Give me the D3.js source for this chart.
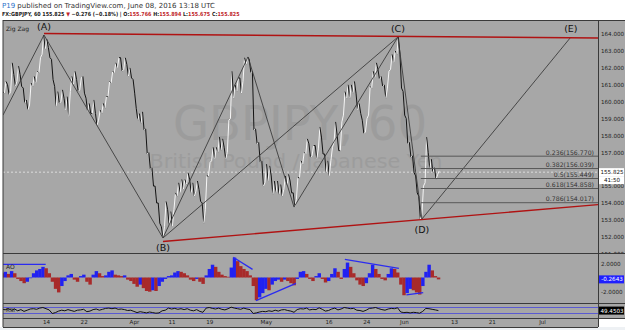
<!DOCTYPE html>
<html>
<head>
<meta charset="utf-8">
<script src="https://cdn.jsdelivr.net/npm/d3@7"></script>
<style>
  body { margin: 0; background: #fff; }
  svg { display: block; }
  text { font-family: "DejaVu Sans", sans-serif; }
</style>
</head>
<body>
<svg id="chart" width="625" height="330"></svg>
<script>

// ---- data ----
// days are trading days counted from Mon 14 Mar 2016 (weekends skipped)

var barStart = -7      // first half-day bar (Thu 3 Mar)
var barStep = 0.5

var priceHigh = [
  160.6, 161.2, 161.0, 162.3, 161.6, 162.1, 161.6, 160.8, 160.1, 161.1,
  161.5, 161.8, 162.6, 163.94, 163.7, 163.2, 162.5, 160.9, 160.6, 160.7,
  160.2, 160.3, 161.5, 161.8, 161.3, 161.4, 161.5, 160.2, 159.9, 160.1,
  159.3, 159.5, 159.9, 160.3, 161.2, 161.8, 162.3, 162.6, 162.6, 162.6,
  162.2, 162.0, 161.3, 159.6, 159.3, 159.4, 158.4, 157.0, 156.1, 155.0,
  154.0, 152.6, 154.1, 153.6, 153.5, 154.6, 155.2, 155.4, 155.4, 155.8,
  155.4, 155.2, 155.3, 154.8, 154.0, 155.6, 156.4, 157.3, 157.3, 157.9,
  157.8, 157.3, 158.9, 161.8, 161.0, 161.4, 161.4, 162.6, 162.64, 162.5,
  161.8, 158.4, 157.6, 156.5, 156.3, 156.2, 155.6, 155.3, 155.3, 155.1,
  155.6, 155.7, 155.3, 154.6, 155.5, 156.5, 157.0, 157.8, 157.5, 157.4,
  157.4, 158.5, 157.9, 156.9, 156.5, 157.3, 158.8, 158.0, 158.8, 160.6,
  161.0, 161.0, 161.2, 160.5, 159.9, 158.9, 159.0, 160.9, 161.8, 162.3,
  161.9, 161.5, 161.0, 161.8, 162.8, 163.0, 163.82, 162.8, 160.6, 159.0,
  157.6, 156.8, 155.6, 154.4, 155.0, 157.9, 157.0, 156.6, 156.1, 155.9
]
var priceLow = [
  160.1, 160.5, 160.4, 160.6, 160.9, 161.2, 160.9, 159.9, 159.5, 159.8,
  160.9, 161.1, 161.7, 162.8, 163.1, 162.6, 161.3, 159.7, 159.9, 160.0,
  159.5, 159.1, 160.6, 161.0, 160.6, 160.7, 160.5, 159.4, 159.3, 159.3,
  158.6, 158.9, 159.3, 159.6, 160.3, 161.1, 161.7, 162.0, 161.8, 161.9,
  161.5, 161.4, 160.5, 158.9, 158.7, 158.3, 156.9, 156.0, 155.0, 154.0,
  152.8, 151.93, 152.6, 152.7, 152.6, 153.6, 154.4, 154.6, 154.8, 155.1,
  154.6, 154.4, 154.7, 154.1, 152.8, 153.6, 155.6, 156.5, 156.6, 157.0,
  157.1, 156.6, 157.0, 159.0, 160.2, 160.6, 160.5, 161.2, 162.2, 161.7,
  158.3, 157.5, 156.4, 155.0, 155.2, 155.3, 154.5, 154.6, 154.5, 154.4,
  154.8, 155.0, 154.6, 153.76, 154.2, 155.5, 156.3, 156.9, 156.7, 156.8,
  156.6, 157.2, 156.9, 155.8, 155.6, 156.5, 157.6, 157.1, 157.1, 159.2,
  160.2, 160.2, 160.5, 159.5, 159.3, 158.1, 158.2, 159.2, 160.8, 161.4,
  161.3, 160.9, 160.2, 160.8, 161.9, 162.3, 162.8, 160.8, 159.2, 157.5,
  156.7, 155.8, 154.6, 153.05, 153.3, 155.2, 156.0, 155.8, 155.4, 155.68
]

var aoValues = [
  0.6, 0.8, 0.5, 0.9, 0.6, -0.2, -0.5, -0.8, -0.6, -0.1,
  0.6, 1.0, 1.2, 1.5, 1.3, 0.6, -0.6, -1.6, -2.1, -1.2,
  -0.5, 0.3, 0.5, -0.3, -0.6, 0.2, 0.4, -0.6, -1.0, 0.4,
  0.9, 0.6, 0.2, 0.3, 0.8, 1.0, 0.4, 0.3, 0.2, 0.3,
  -0.3, -0.5, -0.9, -1.3, -1.0, -1.5, -1.9, -2.0, -1.8, -1.9,
  -1.2, -0.6, -0.2, 0.2, 0.3, 0.7, 0.9, 0.8, 0.6, 0.3,
  -0.3, -0.5, -0.2, -0.6, -0.9, 0.3, 1.2, 1.8, 1.5, 0.8,
  0.4, 0.2, 0.1, 1.4, 2.8, 2.3, 1.6, 1.2, 0.9, 0.3,
  -1.2, -3.2, -2.8, -2.2, -1.6, -1.8, -1.0, -0.5, -0.3, -0.6,
  -0.3, -0.5, -0.8, -1.1, -0.2, 0.8, 0.9, 0.5, -0.2, -0.5,
  0.2, 0.6, -0.2, -0.7, -0.5, 0.5, 1.3, 0.8, -0.2, 1.2,
  2.1, 1.5, 0.6, -0.4, -1.0, -1.2, -0.8, 0.6, 1.8, 1.2,
  0.5, -0.2, -0.4, 0.5, 1.3, 1.2, 0.7, -1.0, -2.5, -2.2,
  -1.6, -1.8, -2.1, -2.4, -1.2, 0.8, 1.8, 1.0, 0.2, -0.2643
]

var rsiValues = [
  58, 55, 62, 52, 60, 48, 56, 44, 52, 60,
  62, 58, 66, 70, 62, 54, 30, 36, 46, 52,
  48, 56, 50, 44, 52, 54, 58, 42, 46, 56,
  60, 52, 58, 64, 66, 62, 66, 58, 60, 56,
  50, 52, 44, 36, 42, 38, 34, 40, 36, 32,
  34, 48, 52, 66, 60, 64, 58, 62, 56, 62,
  52, 48, 56, 44, 38, 66, 70, 64, 60, 66,
  58, 54, 62, 72, 66, 62, 58, 66, 60, 56,
  30, 34, 40, 44, 42, 48, 44, 52, 46, 54,
  56, 50, 46, 38, 56, 62, 60, 66, 54, 58,
  56, 68, 58, 46, 50, 60, 66, 54, 60, 70,
  66, 62, 64, 52, 50, 44, 52, 64, 66, 70,
  62, 56, 52, 60, 64, 62, 68, 40, 36, 38,
  34, 38, 36, 32, 44, 64, 62, 58, 54, 49.4503
]

var lastPrice = 155.825
var lastAO = -0.2643
var lastRSI = 49.4503
var countdown = '41:50'

// zig zag pivots
var pivotLabels = ['', '(A)', '(B)', '', '', '(C)', '(D)', '(E)']
var pivotDays = [-6.85, -0.32, 18.63, 32.17, 39.5, 56.05, 59.87, 83.6]
var pivotPrices = [159.2, 163.94, 151.93, 162.64, 153.76, 163.82, 153.05, 163.82]
var pivotIsTop = [false, true, false, true, false, true, false, true]
var zigzagLinks = [[0, 1], [1, 2], [2, 3], [3, 4], [4, 5], [5, 6], [2, 5], [6, 7]]

// red trend lines, each extended to the right edge
var upperTrendDays = [-0.32, 56.05]
var upperTrendPrices = [164.03, 163.86]
var lowerTrendDays = [18.63, 59.87]
var lowerTrendPrices = [151.72, 153.02]

// fib retracement
var fibStartDay = 59.7
var fibLevels = ['0.236', '0.382', '0.5', '0.618', '0.786']
var fibPrices = [156.770, 156.039, 155.449, 154.858, 154.017]

// blue lines drawn on the AO pane: [day1, ao1, day2, ao2]
var aoLines = [
  [-6.85, 1.86, -0.05, 1.86],
  [29.82, 2.85, 32.9, 1.15],
  [33.44, -3.27, 39.81, -0.82],
  [47.6, 2.56, 56.2, 1.3],
  [57.4, -2.46, 60.08, -2.14]
]

// 156.000 sits under the last-price box, so it is not listed
var priceTicks = [151, 152, 153, 154, 155, 157, 158, 159, 160, 161, 162, 163, 164]
var aoTicks = [2, -2]
var rsiBands = [70, 30]
var timeTickLabels = ['14', '22', 'Apr', '11', '19', 'May', '16', '24', 'Jun', '13', '21', 'Jul']
var timeTickDates = ['2016-03-14', '2016-03-22', '2016-04-01', '2016-04-11', '2016-04-19', '2016-05-02',
                     '2016-05-16', '2016-05-24', '2016-06-01', '2016-06-13', '2016-06-21', '2016-07-01']

// ---- layout ----
var left = 3, axisX = 598, right = 625
var mainTop = 20, mainBottom = 253, aoBottom = 303, rsiBottom = 318, timeBottom = 327
var bg = '#a7a7a7'
var blue = '#2121f2', red = '#a82a2a'
var axisFont = 5.6

// trading day index of a date
var tradingDays = d3.timeDay.range(new Date(2016, 1, 1), new Date(2016, 7, 1))
  .filter(function(d) { return d.getDay() != 0 && d.getDay() != 6 })
var parseDay = d3.timeParse('%Y-%m-%d')
function tradingDay(s) {
  var d = parseDay(s)
  var origin = parseDay('2016-03-14')
  return tradingDays.findIndex(function(e) { return +e == +d })
       - tradingDays.findIndex(function(e) { return +e == +origin })
}

var x = d3.scaleLinear().domain([0, 79]).range([46, 542])
var y = d3.scaleLinear().domain([164, 151]).range([34, 253.7])
var yAO = d3.scaleLinear().domain([2, -2]).range([263.3, 291.7])
var yRSI = d3.scaleLinear().domain([100, 0]).range([303, 318])
var rightDay = x.invert(axisX)

var svg = d3.select('#chart')

// backgrounds
svg.append('rect').attr('x', 0).attr('y', timeBottom).attr('width', 625).attr('height', 330 - timeBottom)
  .attr('fill', '#eef1f4')
svg.append('rect').attr('x', left).attr('y', mainTop).attr('width', right - left).attr('height', rsiBottom - mainTop)
  .attr('fill', bg)
svg.append('rect').attr('x', left).attr('y', rsiBottom).attr('width', axisX - left).attr('height', timeBottom - rsiBottom)
  .attr('fill', bg)

var defs = svg.append('defs')
function clip(id, y0, y1) {
  defs.append('clipPath').attr('id', id).append('rect')
    .attr('x', left).attr('y', y0).attr('width', axisX - left).attr('height', y1 - y0)
  return svg.append('g').attr('clip-path', 'url(#' + id + ')')
}

// ---- header ----
var head1 = svg.append('text').attr('x', 2).attr('y', 7.5).attr('font-size', 7)
head1.append('tspan').attr('fill', '#2a6fc9').text('P19')
head1.append('tspan').attr('fill', '#333').text(' published on TradingView.com, June 08, 2016 13:18 UTC')

var head2Parts = [
  ['FX:GBPJPY, 60 155.825 ', '#222'], ['\u25BC', '#c0262b'], [' \u22120.276 (\u22120.18%) | ', '#222'],
  ['O:', '#222'], ['155.766', '#c0262b'], [' H:', '#222'], ['155.894', '#c0262b'],
  [' L:', '#222'], ['155.675', '#c0262b'], [' C:', '#222'], ['155.825', '#c0262b']
]
// the bold line is a condensed face in the reference, so squeeze it a little
var head2 = svg.append('text').attr('transform', 'translate(2,16) scale(0.87,1)').attr('font-size', 5.6)
  .attr('font-family', 'Liberation Sans').attr('font-weight', 'bold')
head2.selectAll('tspan').data(head2Parts).enter().append('tspan')
  .attr('fill', function(d) { return d[1] }).text(function(d) { return d[0] })

// ---- main pane ----
var gMain = clip('clipMain', mainTop, mainBottom)

gMain.append('text').attr('x', 300).attr('y', 139.5).attr('text-anchor', 'middle')
  .attr('font-family', 'Liberation Sans').attr('font-size', 48).attr('fill', '#9c9c9c')
  .attr('textLength', 254).attr('lengthAdjust', 'spacingAndGlyphs').text('GBPJPY, 60')
gMain.append('text').attr('x', 296).attr('y', 167.5).attr('text-anchor', 'middle')
  .attr('font-family', 'Liberation Sans').attr('font-size', 20).attr('fill', '#9c9c9c')
  .attr('textLength', 293).attr('lengthAdjust', 'spacingAndGlyphs').text('British Pound / Japanese Yen')

// last price dotted line
gMain.append('line').attr('x1', left).attr('x2', axisX)
  .attr('y1', y(lastPrice)).attr('y2', y(lastPrice))
  .attr('stroke', '#dcdcdc').attr('stroke-dasharray', '2,2')

// price bars (half-day), drawn as a jagged line
var bars = priceHigh.map(function(h, i) {
  return { day: barStart + i * barStep, hi: h, lo: priceLow[i] }
})
bars.forEach(function(b, i) {
  var prev = i ? bars[i - 1] : b
  b.up = (b.hi + b.lo) >= (prev.hi + prev.lo)
  b.a = b.up ? b.lo : b.hi
  b.b = b.up ? b.hi : b.lo
})
var q = (x(barStep) - x(0)) / 4
var segs = []
bars.forEach(function(b, i) {
  if (i) segs.push([x(bars[i - 1].day) + q, bars[i - 1].b, x(b.day) - q, b.a])
  segs.push([x(b.day) - q, b.a, x(b.day) + q, b.b])
})
gMain.selectAll('line.px').data(segs).enter().append('line').attr('class', 'px')
  .attr('x1', function(d) { return d[0] }).attr('y1', function(d) { return y(d[1]) })
  .attr('x2', function(d) { return d[2] }).attr('y2', function(d) { return y(d[3]) })
  .attr('stroke', function(d) { return d[3] > d[1] ? '#f6f6f6' : '#141414' })
  .attr('stroke-width', 1)

// zig zag
gMain.selectAll('line.zz').data(zigzagLinks).enter().append('line').attr('class', 'zz')
  .attr('x1', function(d) { return x(pivotDays[d[0]]) }).attr('y1', function(d) { return y(pivotPrices[d[0]]) })
  .attr('x2', function(d) { return x(pivotDays[d[1]]) }).attr('y2', function(d) { return y(pivotPrices[d[1]]) })
  .attr('stroke', '#3c3c3c').attr('stroke-width', 0.9)

// trend lines
function extended(days, prices) {
  var slope = (prices[1] - prices[0]) / (days[1] - days[0])
  return [[days[0], prices[0]], [rightDay, prices[0] + slope * (rightDay - days[0])]]
}
;[extended(upperTrendDays, upperTrendPrices), extended(lowerTrendDays, lowerTrendPrices)].forEach(function(t) {
  gMain.append('line')
    .attr('x1', x(t[0][0])).attr('y1', y(t[0][1]))
    .attr('x2', x(t[1][0])).attr('y2', y(t[1][1]))
    .attr('stroke', '#b01212').attr('stroke-width', 1.4)
})

// fib levels
fibPrices.forEach(function(p, i) {
  gMain.append('line').attr('x1', x(fibStartDay)).attr('x2', axisX)
    .attr('y1', y(p)).attr('y2', y(p)).attr('stroke', '#585858').attr('stroke-width', 1)
  gMain.append('text').attr('x', axisX - 4).attr('y', y(p) - 1.5).attr('text-anchor', 'end')
    .attr('font-size', 6.2).attr('fill', '#333').text(fibLevels[i] + '(' + p.toFixed(3) + ')')
})

// pivot labels
pivotLabels.forEach(function(l, i) {
  if (!l) return
  gMain.append('text').attr('x', x(pivotDays[i])).attr('text-anchor', 'middle')
    .attr('y', y(pivotPrices[i]) + (pivotIsTop[i] ? -5.5 : 13.5))
    .attr('font-size', 9.5).attr('fill', '#111').text(l)
})

gMain.append('text').attr('x', 6).attr('y', 31).attr('font-size', 6).attr('fill', '#222').text('Zig Zag')

// price axis
defs.append('clipPath').attr('id', 'clipAxis').append('rect')
  .attr('x', axisX).attr('y', mainTop).attr('width', right - axisX).attr('height', mainBottom - mainTop)
svg.append('g').attr('clip-path', 'url(#clipAxis)')
  .append('g').attr('transform', 'translate(' + axisX + ',0)')
  .call(d3.axisRight(y).tickValues(priceTicks).tickSize(0).tickPadding(3)
    .tickFormat(function(d) { return d.toFixed(3) }))
  .call(function(g) { g.select('.domain').remove() })
  .attr('font-family', 'Liberation Sans').attr('font-size', axisFont)
  .selectAll('text').attr('fill', '#222')

function valueBox(yc, txt, fill, color) {
  svg.append('rect').attr('x', axisX + 1).attr('y', yc - 4).attr('width', right - axisX - 2).attr('height', 8)
    .attr('fill', fill)
  svg.append('text').attr('x', (axisX + right) / 2 + 0.5).attr('y', yc + 2).attr('text-anchor', 'middle')
    .attr('font-family', 'Liberation Sans').attr('font-size', axisFont).attr('fill', color).text(txt)
}
valueBox(y(lastPrice), lastPrice.toFixed(3), '#fff', '#111')
valueBox(y(lastPrice) + 8, countdown, '#fff', '#111')

// ---- AO pane ----
var gAO = clip('clipAO', mainBottom, aoBottom)
var bw = x(barStep) - x(0)
gAO.selectAll('rect').data(aoValues).enter().append('rect')
  .attr('x', function(d, i) { return x(barStart + i * barStep) - bw / 2 })
  .attr('width', bw + 0.3)
  .attr('y', function(d) { return Math.min(yAO(d), yAO(0)) })
  .attr('height', function(d) { return Math.abs(yAO(d) - yAO(0)) })
  .attr('fill', function(d, i) { return i && d > aoValues[i - 1] ? blue : red })

gAO.selectAll('line.ao').data(aoLines).enter().append('line').attr('class', 'ao')
  .attr('x1', function(d) { return x(d[0]) }).attr('y1', function(d) { return yAO(d[1]) })
  .attr('x2', function(d) { return x(d[2]) }).attr('y2', function(d) { return yAO(d[3]) })
  .attr('stroke', '#2b2bf0').attr('stroke-width', 1.3)
gAO.append('text').attr('x', 6).attr('y', 269).attr('font-size', 6).attr('fill', '#222').text('AO')

svg.append('g').attr('transform', 'translate(' + axisX + ',0)')
  .call(d3.axisRight(yAO).tickValues(aoTicks).tickSize(0).tickPadding(3)
    .tickFormat(function(d) { return d.toFixed(4) }))
  .call(function(g) { g.select('.domain').remove() })
  .attr('font-family', 'Liberation Sans').attr('font-size', axisFont)
  .selectAll('text').attr('fill', '#222')
valueBox(yAO(lastAO), lastAO.toFixed(4), '#1f1fff', '#fff')

// ---- RSI pane ----
var gRSI = clip('clipRSI', aoBottom, rsiBottom)
rsiBands.forEach(function(v) {
  gRSI.append('line').attr('x1', left).attr('x2', axisX).attr('y1', yRSI(v)).attr('y2', yRSI(v))
    .attr('stroke', '#5a5ad2').attr('stroke-width', 1)
})
gRSI.append('path').datum(rsiValues)
  .attr('d', d3.line().x(function(d, i) { return x(barStart + i * barStep) }).y(function(d) { return yRSI(d) }))
  .attr('fill', 'none').attr('stroke', '#111').attr('stroke-width', 1)
gRSI.append('text').attr('x', 6).attr('y', 312).attr('font-size', 5.5).attr('fill', '#222').text('RSI')
valueBox(yRSI(lastRSI), lastRSI.toFixed(4), '#000', '#fff')

// ---- time axis ----
svg.append('g').attr('transform', 'translate(0,' + rsiBottom + ')')
  .call(d3.axisBottom(x).tickValues(timeTickDates.map(tradingDay)).tickSize(0).tickPadding(2)
    .tickFormat(function(d, i) { return timeTickLabels[i] }))
  .call(function(g) { g.select('.domain').remove() })
  .attr('font-family', 'Liberation Sans').attr('font-size', axisFont)
  .selectAll('text').attr('fill', '#222')

// ---- frame ----
var frame = svg.append('g').attr('stroke', '#3a3a3a').attr('stroke-width', 1).attr('fill', 'none')
frame.append('line').attr('x1', left).attr('x2', left).attr('y1', mainTop).attr('y2', timeBottom)
frame.append('line').attr('x1', left).attr('x2', right).attr('y1', mainTop + 0.5).attr('y2', mainTop + 0.5)
frame.append('line').attr('x1', axisX + 0.5).attr('x2', axisX + 0.5).attr('y1', mainTop).attr('y2', rsiBottom)
;[mainBottom, aoBottom, rsiBottom].forEach(function(v) {
  frame.append('line').attr('x1', left).attr('x2', right).attr('y1', v + 0.5).attr('y2', v + 0.5)
})
frame.append('line').attr('x1', left).attr('x2', axisX).attr('y1', timeBottom + 0.5).attr('y2', timeBottom + 0.5)
frame.append('line').attr('x1', axisX + 0.5).attr('x2', axisX + 0.5).attr('y1', rsiBottom).attr('y2', timeBottom)

</script>
</body>
</html>
